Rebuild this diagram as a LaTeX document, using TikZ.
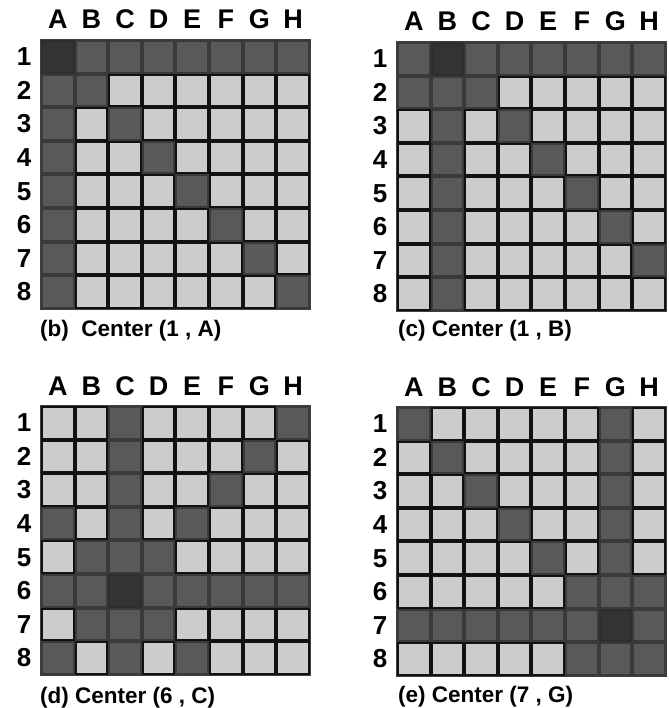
\documentclass[tikz,border=0pt]{standalone}
\usepackage{fontspec}
\setmainfont{Liberation Sans}

\definecolor{shade0}{HTML}{CCCCCC}
\definecolor{shade1}{HTML}{595959}
\definecolor{shade2}{HTML}{333333}
\definecolor{edge0}{HTML}{111111}
\definecolor{edge1}{HTML}{3A3A3A}
\definecolor{edge2}{HTML}{2E2E2E}

% #1 name, #2 left, #3 top, #4 center column, #5 center row
\newcommand{\board}[5]{%
  \fill[black] (#2-1,#3-1) rectangle ++(270.8,270.8);
  \foreach \cx in {1,...,8} {
    \foreach \ry in {1,...,8} {
      \pgfmathtruncatemacro{\k}{(\cx==#4 && \ry==#5) ? 2 : ((\cx==#4 || \ry==#5 || abs(\cx-#4)==abs(\ry-#5)) ? 1 : 0)}
      \node[cell, fill=shade\k, draw=edge\k] (#1\cx\ry) at ({#2+(\cx-0.5)*33.6},{#3+(\ry-0.5)*33.6}) {};
    }
  }
  \draw[black!75, line width=0.8pt] (#2-1,#3-1) rectangle ++(270.8,270.8);
  \foreach \l [count=\i] in {A,B,C,D,E,F,G,H}
    \node[collabel] (#1col\i) at ({#2+(\i-0.5)*33.6},#3-11) {\l};
  \foreach \i in {1,...,8}
    \node[rowlabel] (#1row\i) at (#2-17,{#3+(\i-0.5)*33.6}) {\i};
}

\begin{document}
\begin{tikzpicture}[x=1pt,y=-1pt,
    cell/.style={rectangle, minimum size=31.6pt, inner sep=0pt, line width=2pt},
    collabel/.style={anchor=base, inner sep=0pt, font=\fontsize{27}{27}\selectfont\bfseries},
    rowlabel/.style={anchor=center, inner sep=0pt, font=\fontsize{26}{26}\selectfont\bfseries},
    caption/.style={anchor=base west, inner sep=0pt, font=\fontsize{22.5}{22.5}\selectfont\bfseries}]

    \useasboundingbox[fill=white] (0,0) rectangle (668,708);

    \board{b}{41}{40}{1}{1}
    \board{c}{397}{42}{2}{1}
    \board{d}{41}{406}{3}{6}
    \board{e}{397}{407}{7}{7}

    \node[caption] (capb) at (40,336) {(b)\ \ Center (1 , A)};
    \node[caption] (capc) at (398,336) {(c) Center (1 , B)};
    \node[caption] (capd) at (40,703) {(d) Center (6 , C)};
    \node[caption] (cape) at (398,702) {(e) Center (7 , G)};

\end{tikzpicture}
\end{document}
